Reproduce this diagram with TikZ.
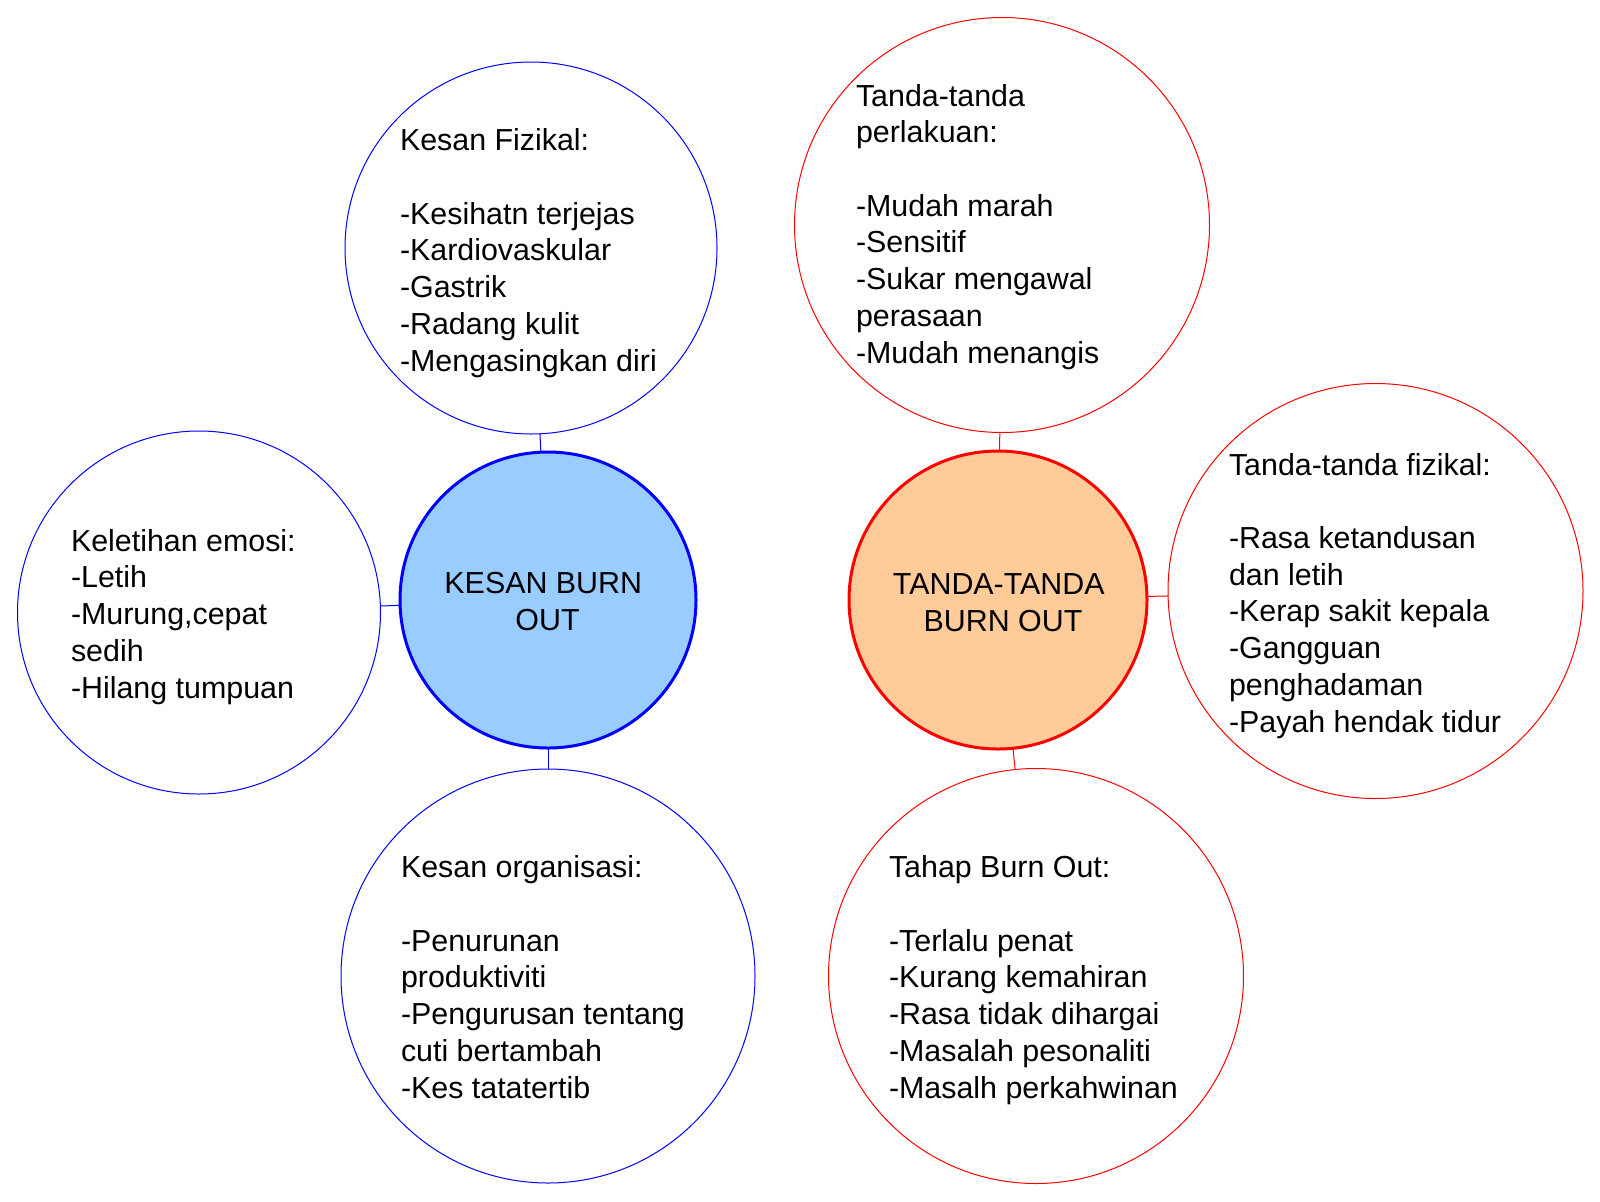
\documentclass[tikz,border=0pt]{standalone}
\usepackage{fontspec}
\setmainfont{Liberation Sans}
\newcommand\diagfont{\fontsize{15.2pt}{18.35pt}\selectfont}
\definecolor{lightblu}{HTML}{99CCFF}
\definecolor{lightorg}{HTML}{FFCC99}
\begin{document}
\begin{tikzpicture}[x=0.5pt,y=-0.5pt,
  bubble/.style={circle,inner sep=0pt,outer sep=0pt,line width=0.5pt,fill=white},
  bluebub/.style={bubble,draw=blue},
  redbub/.style={bubble,draw=red},
  hubblue/.style={circle,inner sep=0pt,outer sep=0pt,line width=1.5pt,draw=blue,fill=lightblu},
  hubred/.style={circle,inner sep=0pt,outer sep=0pt,line width=1.5pt,draw=red,fill=lightorg},
  txt/.style={inner sep=0pt,outer sep=0pt,anchor=base west,align=left,font=\diagfont},
  hubtxt/.style={inner sep=0pt,outer sep=0pt,anchor=base,align=center,font=\diagfont},
  bluelink/.style={draw=blue,line width=0.5pt},
  redlink/.style={draw=red,line width=0.5pt}]
\useasboundingbox[fill=white] (0,0) rectangle (1600,1201);

% blue group
\node[hubblue,minimum size=148pt] (cb) at (548,600) {};
\node[bluebub,minimum size=186pt] (cf) at (531,248) {};
\node[bluebub,minimum size=181.5pt] (ce) at (199,612.5) {};
\node[bluebub,minimum size=207pt] (co) at (548,976) {};

% red group
\node[hubred,minimum size=149pt] (cr) at (998,600) {};
\node[redbub,minimum size=207.5pt] (ct) at (1002,225) {};
\node[redbub,minimum size=207.5pt] (cp) at (1375.5,591) {};
\node[redbub,minimum size=207.5pt] (cs) at (1036,976) {};

% connectors
\draw[bluelink] (cb) -- (cf);
\draw[bluelink] (cb) -- (ce);
\draw[bluelink] (cb) -- (co);
\draw[redlink] (cr) -- (ct);
\draw[redlink] (cr) -- (cp);
\draw[redlink] (cr) -- (cs);

% hub texts (anchored at the baseline of the last line)
\node[hubtxt] (tb) at (547.5,630) {KESAN BURN\kern0.278em\\OUT};
\node[hubtxt] (tr) at (1003,631) {TANDA-TANDA\kern0.278em\\BURN OUT};

% bubble texts (anchored at the baseline of the last line)
\node[txt] (tf) at (400,371) {Kesan Fizikal:\\[18.35pt]-Kesihatn terjejas\\-Kardiovaskular\\-Gastrik\\-Radang kulit\\-Mengasingkan diri};
\node[txt] (te) at (71,698) {Keletihan emosi:\\-Letih\\-Murung,cepat\\sedih\\-Hilang tumpuan};
\node[txt] (to) at (401,1098) {Kesan organisasi:\\[18.35pt]-Penurunan\\produktiviti\\-Pengurusan tentang\\cuti bertambah\\-Kes tatatertib};
\node[txt] (tt) at (856,363) {Tanda-tanda\\perlakuan:\\[18.35pt]-Mudah marah\\-Sensitif\\-Sukar mengawal\\perasaan\\-Mudah menangis};
\node[txt] (tp) at (1229,732) {Tanda-tanda fizikal:\\[18.35pt]-Rasa ketandusan\\dan letih\\-Kerap sakit kepala\\-Gangguan\\penghadaman\\-Payah hendak tidur};
\node[txt] (ts) at (889,1098) {Tahap Burn Out:\\[18.35pt]-Terlalu penat\\-Kurang kemahiran\\-Rasa tidak dihargai\\-Masalah pesonaliti\\-Masalh perkahwinan};
\end{tikzpicture}
\end{document}
